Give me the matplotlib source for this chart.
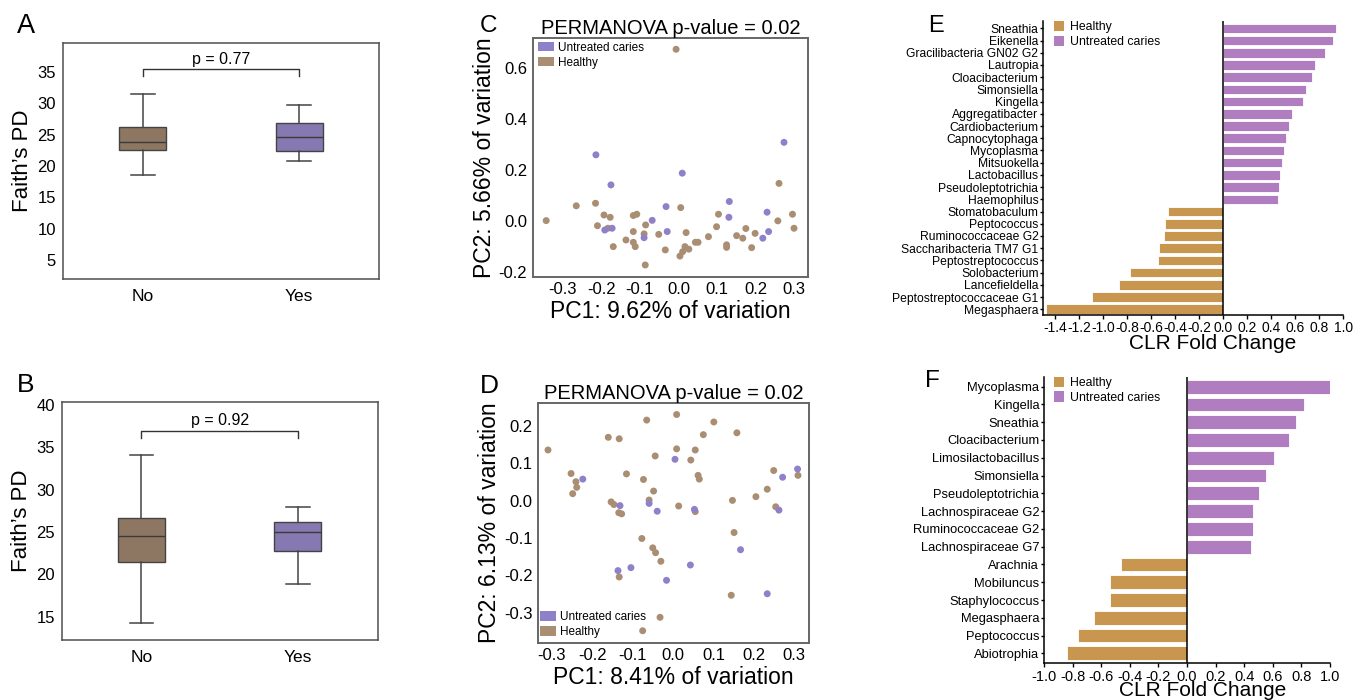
import matplotlib
matplotlib.use('Agg')
import matplotlib.pyplot as plt
from matplotlib.patches import Patch

plt.rcParams['font.family'] = ['Liberation Sans', 'DejaVu Sans']
plt.rcParams['axes.unicode_minus'] = False

# ---------------- data ----------------
groups = ['No', 'Yes']
# box stats: whislo, q1, median, q3, whishi
faith_A_no = [18.5, 22.57, 23.8, 26.24, 31.45]
faith_A_yes = [20.73, 22.4, 24.7, 26.78, 29.65]
faith_B_no = [14.2, 21.4, 24.5, 26.6, 34.1]
faith_B_yes = [18.9, 22.8, 25.0, 26.2, 27.9]
p_A = 'p = 0.77'
p_B = 'p = 0.92'

c_healthy_pc1 = [-0.343, -0.265, -0.215, -0.210, -0.193, -0.177, -0.183, -0.169, -0.136,
                 -0.117, -0.108, -0.117, -0.117, -0.112, -0.089, -0.085, -0.086, -0.051,
                 -0.034, 0.006, -0.006, 0.004, 0.011, 0.020, 0.017, 0.027, 0.044, 0.051,
                 0.078, 0.099, 0.104, 0.125, 0.125, 0.151, 0.167, 0.175, 0.190, 0.199,
                 0.258, 0.261, 0.296, 0.300]
c_healthy_pc2 = [0.000, 0.058, 0.068, -0.020, 0.022, 0.013, -0.030, -0.102, -0.076,
                 0.020, 0.025, -0.043, -0.085, -0.102, -0.052, -0.017, -0.174, -0.054,
                 -0.115, 0.051, 0.672, -0.139, -0.122, -0.047, -0.102, -0.112, -0.085, -0.085,
                 -0.063, -0.024, 0.025, -0.095, -0.105, -0.059, -0.069, -0.031, -0.106, -0.050,
                 -0.001, 0.146, 0.025, -0.030]
c_caries_pc1 = [-0.214, -0.175, -0.191, -0.172, -0.068, -0.089, -0.032, -0.029, 0.010,
                0.132, 0.131, 0.230, 0.234, 0.219, 0.274]
c_caries_pc2 = [0.258, 0.140, -0.037, -0.030, 0.001, -0.067, 0.055, -0.043, 0.186,
                0.075, 0.013, 0.033, -0.043, -0.069, 0.307]
c_title = 'PERMANOVA p-value = 0.02'
c_xlabel = 'PC1: 9.62% of variation'
c_ylabel = 'PC2: 5.66% of variation'

d_healthy_pc1 = [-0.309, -0.252, -0.240, -0.238, -0.248, -0.160, -0.133, -0.115, -0.153,
                 -0.146, -0.134, -0.127, -0.133, -0.065, -0.073, -0.044, -0.048, -0.059,
                 -0.077, -0.050, -0.043, -0.030, -0.032, -0.075, 0.009, 0.009, 0.014,
                 0.044, 0.055, 0.062, 0.065, 0.055, 0.075, 0.101, 0.158, 0.147, 0.151,
                 0.144, 0.205, 0.233, 0.249, 0.254, 0.309]
d_healthy_pc2 = [0.136, 0.073, 0.051, 0.036, 0.019, 0.170, 0.166, 0.072, -0.003,
                 -0.010, -0.032, -0.035, -0.204, 0.216, 0.057, 0.120, 0.026, 0.002,
                 -0.101, -0.126, -0.139, -0.162, -0.312, -0.348, 0.231, 0.139, -0.014,
                 0.109, 0.136, 0.068, 0.058, -0.029, 0.177, 0.211, 0.182, 0.001, -0.085,
                 -0.253, 0.011, 0.031, 0.081, -0.016, 0.068]
d_caries_pc1 = [-0.223, -0.131, -0.136, -0.104, -0.059, -0.039, 0.005, -0.016, 0.053,
                0.043, 0.167, 0.233, 0.271, 0.262, 0.308]
d_caries_pc2 = [0.058, -0.013, -0.187, -0.179, -0.007, -0.028, 0.111, -0.213, -0.023,
                -0.172, -0.131, -0.249, 0.063, -0.025, 0.085]
d_title = 'PERMANOVA p-value = 0.02'
d_xlabel = 'PC1: 8.41% of variation'
d_ylabel = 'PC2: 6.13% of variation'

e_genera = ['Sneathia', 'Eikenella', 'Gracilibacteria GN02 G2', 'Lautropia', 'Cloacibacterium',
            'Simonsiella', 'Kingella', 'Aggregatibacter', 'Cardiobacterium', 'Capnocytophaga',
            'Mycoplasma', 'Mitsuokella', 'Lactobacillus', 'Pseudoleptotrichia', 'Haemophilus',
            'Stomatobaculum', 'Peptococcus', 'Ruminococcaceae G2', 'Saccharibacteria TM7 G1',
            'Peptostreptococcus', 'Solobacterium', 'Lancefieldella', 'Peptostreptococcaceae G1',
            'Megasphaera']
e_fc = [0.939, 0.911, 0.844, 0.764, 0.742, 0.689, 0.667, 0.572, 0.544, 0.519, 0.508, 0.489,
        0.469, 0.467, 0.458, -0.461, -0.483, -0.492, -0.533, -0.547, -0.778, -0.869,
        -1.092, -1.475]
e_xticks = [-1.4, -1.2, -1.0, -0.8, -0.6, -0.4, -0.2, 0.0, 0.2, 0.4, 0.6, 0.8, 1.0]

f_genera = ['Mycoplasma', 'Kingella', 'Sneathia', 'Cloacibacterium', 'Limosilactobacillus',
            'Simonsiella', 'Pseudoleptotrichia', 'Lachnospiraceae G2', 'Ruminococcaceae G2',
            'Lachnospiraceae G7', 'Arachnia', 'Mobiluncus', 'Staphylococcus', 'Megasphaera',
            'Peptococcus', 'Abiotrophia']
f_fc = [0.998, 0.820, 0.759, 0.710, 0.605, 0.551, 0.502, 0.463, 0.463, 0.451,
        -0.465, -0.535, -0.537, -0.647, -0.764, -0.839]
f_xticks = [-1.0, -0.8, -0.6, -0.4, -0.2, 0.0, 0.2, 0.4, 0.6, 0.8, 1.0]

legend_labels = ['Healthy', 'Untreated caries']

# ---------------- styles ----------------
BOX_BROWN = '#8E7762'
BOX_PURPLE = '#8678B0'
PT_BROWN = '#A98E73'
PT_PURPLE = '#8F80CA'
BAR_GOLD = '#C8964F'
BAR_PURPLE = '#B07EC0'
FRAME = '#505050'

W, H = 1367, 700
fig = plt.figure(figsize=(W / 100, H / 100), dpi=100)


def px_axes(x0, y0, x1, y1):
    return fig.add_axes([x0 / W, 1 - y1 / H, (x1 - x0) / W, (y1 - y0) / H])


def box_panel(ax, no, yes, ptxt, ylim, yticks, br_y, br_drop, ptxt_y):
    stats = []
    for lab, s in zip(groups, [no, yes]):
        stats.append(dict(label=lab, whislo=s[0], q1=s[1], med=s[2], q3=s[3], whishi=s[4]))
    bp = ax.bxp(stats, positions=[0, 1], widths=0.30, showfliers=False, patch_artist=True,
                boxprops=dict(edgecolor='#444444', linewidth=1.0),
                whiskerprops=dict(color='#444444', linewidth=1.1),
                capprops=dict(color='#444444', linewidth=1.1),
                medianprops=dict(color='#3a3a3a', linewidth=1.0))
    for patch, c in zip(bp['boxes'], [BOX_BROWN, BOX_PURPLE]):
        patch.set_facecolor(c)
    ax.plot([0, 0, 1, 1], [br_y - br_drop, br_y, br_y, br_y - br_drop], color='#333333', lw=1.0)
    ax.text(0.5, ptxt_y, ptxt, ha='center', va='baseline', fontsize=11.5)
    ax.set_xlim(-0.51, 1.51)
    ax.set_ylim(*ylim)
    ax.set_yticks(yticks)
    ax.set_xticks([0, 1])
    ax.set_xticklabels(groups)
    ax.tick_params(axis='y', length=0, pad=5, labelsize=12)
    ax.tick_params(axis='x', length=0, pad=7, labelsize=12.5)
    ax.set_ylabel('Faith\u2019s PD', fontsize=16, labelpad=3)
    for sp in ax.spines.values():
        sp.set_color(FRAME)
        sp.set_linewidth(1.1)


axA = px_axes(63, 43, 379, 279)
box_panel(axA, faith_A_no, faith_A_yes, p_A, (2, 39.6), [5, 10, 15, 20, 25, 30, 35],
          35.4, 1.0, 36.3)
axB = px_axes(61.7, 402.3, 377.7, 640)
box_panel(axB, faith_B_no, faith_B_yes, p_B, (12.25, 40.3), [15, 20, 25, 30, 35, 40],
          36.9, 0.85, 37.6)


def pca_panel(ax, hx, hy, cx, cy, title, xl, yl, xlim, ylim, yticks, leg_loc, leg_anchor):
    ax.scatter(hx, hy, s=25, color=PT_BROWN, edgecolors='none', zorder=3)
    ax.scatter(cx, cy, s=25, color=PT_PURPLE, edgecolors='none', zorder=3)
    ax.set_xlim(*xlim)
    ax.set_ylim(*ylim)
    ax.set_xticks([-0.3, -0.2, -0.1, 0.0, 0.1, 0.2, 0.3])
    ax.set_yticks(yticks)
    ax.xaxis.set_major_formatter(matplotlib.ticker.FormatStrFormatter('%.1f'))
    ax.yaxis.set_major_formatter(matplotlib.ticker.FormatStrFormatter('%.1f'))
    ax.tick_params(length=0, pad=4, labelsize=12)
    ax.set_title(title, fontsize=14.5, pad=2)
    ax.set_xlabel(xl, fontsize=16.5, labelpad=2)
    ax.set_ylabel(yl, fontsize=16.5, labelpad=2)
    for sp in ax.spines.values():
        sp.set_color('#666666')
        sp.set_linewidth(1.4)
    handles = [Patch(facecolor=PT_PURPLE, edgecolor='none'),
               Patch(facecolor=PT_BROWN, edgecolor='none')]
    ax.legend(handles, [legend_labels[1], legend_labels[0]], loc=leg_loc,
              bbox_to_anchor=leg_anchor, frameon=False, fontsize=8.5,
              handlelength=1.3, handleheight=0.85, handletextpad=0.35,
              labelspacing=0.25, borderpad=0, borderaxespad=0)


axC = px_axes(532.7, 38.3, 808.3, 276.7)
pca_panel(axC, c_healthy_pc1, c_healthy_pc2, c_caries_pc1, c_caries_pc2, c_title,
          c_xlabel, c_ylabel, (-0.378, 0.337), (-0.22, 0.715), [-0.2, 0.0, 0.2, 0.4, 0.6],
          'upper left', (0.02, 0.985))
axD = px_axes(538.3, 403.3, 809.3, 642.7)
pca_panel(axD, d_healthy_pc1, d_healthy_pc2, d_caries_pc1, d_caries_pc2, d_title,
          d_xlabel, d_ylabel, (-0.333, 0.337), (-0.380, 0.261),
          [-0.3, -0.2, -0.1, 0.0, 0.1, 0.2], 'lower left', (0.008, 0.02))


def bar_panel(ax, genera, fc, xticks, xlim, ylim, ylabsize, xlabsize, labx, laby, clrsize):
    pos = list(range(len(genera)))
    cols = [BAR_PURPLE if v > 0 else BAR_GOLD for v in fc]
    ax.barh(pos, fc, height=0.78, color=cols, edgecolor='white', linewidth=0.6, zorder=2)
    ax.axvline(0, color='black', lw=1.1, zorder=3)
    ax.set_xlim(*xlim)
    ax.set_ylim(*ylim)
    ax.set_yticks(pos)
    ax.set_yticklabels(genera, fontsize=ylabsize)
    ax.set_xticks(xticks)
    ax.set_xticklabels(['%.1f' % t for t in xticks], fontsize=xlabsize)
    ax.tick_params(axis='y', length=2.5, width=1, pad=1)
    ax.tick_params(axis='x', length=3, width=1, pad=1.5)
    for s in ['top', 'right']:
        ax.spines[s].set_visible(False)
    for s in ['left', 'bottom']:
        ax.spines[s].set_color('black')
        ax.spines[s].set_linewidth(1.1)
    ax.set_xlabel('CLR Fold Change', fontsize=clrsize)
    ax.xaxis.set_label_coords(labx, laby)
    handles = [Patch(facecolor=BAR_GOLD, edgecolor='none'),
               Patch(facecolor=BAR_PURPLE, edgecolor='none')]
    ax.legend(handles, legend_labels, loc='upper left', bbox_to_anchor=(0.035, 1.0),
              frameon=False, fontsize=8.8, handlelength=0.8, handleheight=0.9,
              handletextpad=0.5, labelspacing=0.2, borderpad=0, borderaxespad=0)


axE = px_axes(1043.3, 21, 1343.3, 315)
bar_panel(axE, e_genera, e_fc, e_xticks, (-1.5, 1.0), (23.47, -0.6), 8.7, 10,
          0.566, -0.065, 15)
axF = px_axes(1044, 376.7, 1330, 663.3)
bar_panel(axF, f_genera, f_fc, f_xticks, (-1.0, 1.0), (15.56, -0.56), 9.3, 10.5,
          0.556, -0.062, 15)

# panel letters
for letter, (x, y), fs in [('A', (17, 33), 19.5), ('B', (16.7, 391.7), 19),
                           ('C', (480, 31.7), 17.5), ('D', (480, 393), 19),
                           ('E', (927.7, 32.3), 17), ('F', (925, 386.7), 17.5)]:
    fig.text(x / W, 1 - y / H, letter, fontsize=fs, ha='left', va='baseline')

fig.savefig('out.png', dpi=100)
